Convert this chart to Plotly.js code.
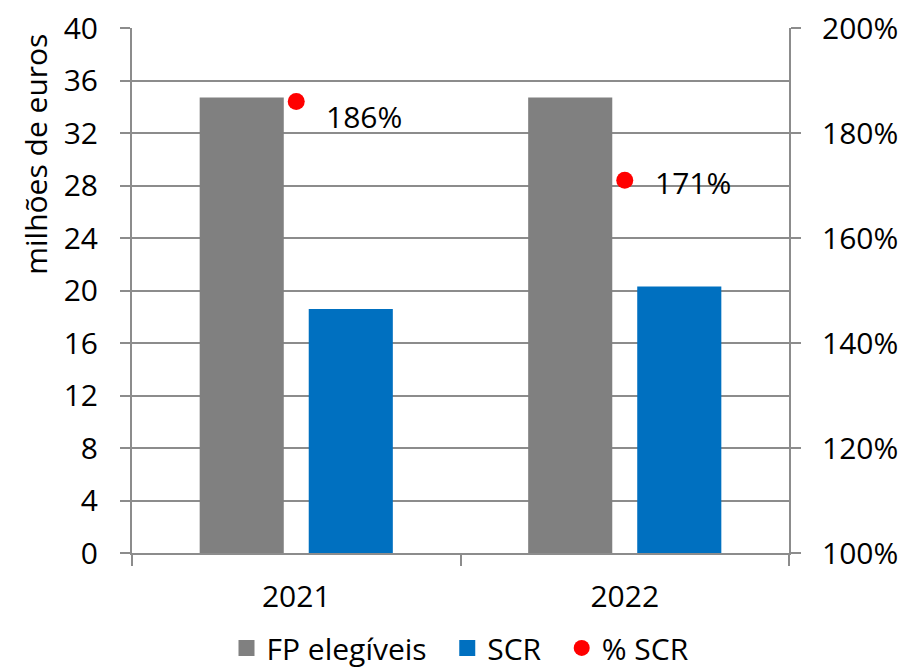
<!DOCTYPE html>
<html>
<head>
<meta charset="utf-8">
<script src="https://cdn.plot.ly/plotly-3.0.1.min.js"></script>
<style>html,body{margin:0;padding:0;background:#fff}#chart{width:906px;height:668px}</style>
</head>
<body>
<div id="chart"></div>
<script>
var categories = ['2021', '2022'];
var fpElegiveis = [34.7, 34.7];
var scr = [18.6, 20.3];
var pctScr = [1.86, 1.71];
var pctLabels = ['186%', '171%'];
var leftTicks = [0, 4, 8, 12, 16, 20, 24, 28, 32, 36, 40];
var rightTicks = [1.0, 1.2, 1.4, 1.6, 1.8, 2.0];

var GRAY = '#808080', BLUE = '#0070C0', RED = '#FF0000', GRID = '#8c8c8c';
function F() { return {family: 'Open Sans, Noto Sans, sans-serif', size: 30, color: '#000'}; }
var NB = '\u00a0';

var traces = [
  {type: 'bar', x: categories, y: fpElegiveis, name: 'FP elegíveis', marker: {color: GRAY},
   width: 0.256, offset: -0.294, showlegend: false, hoverinfo: 'none'},
  {type: 'bar', x: categories, y: scr, name: 'SCR', marker: {color: BLUE},
   width: 0.256, offset: 0.038, showlegend: false, hoverinfo: 'none'},
  {type: 'scatter', mode: 'markers', x: categories, y: pctScr, yaxis: 'y2', name: '% SCR',
   marker: {color: RED, size: 17}, showlegend: false, hoverinfo: 'none'},
  {type: 'scatter', mode: 'markers', x: [null], y: [null], name: 'FP elegíveis' + NB + NB,
   marker: {color: GRAY, symbol: 'square', size: 19}},
  {type: 'scatter', mode: 'markers', x: [null], y: [null], name: 'SCR' + NB + NB,
   marker: {color: BLUE, symbol: 'square', size: 19}},
  {type: 'scatter', mode: 'markers', x: [null], y: [null], name: '% SCR', yaxis: 'y2',
   marker: {color: RED, size: 17}}
];

var labelShiftY = [-15, -2];
var annotations = [];
for (var i = 0; i < categories.length; i++) {
  annotations.push({x: i, y: pctScr[i], xref: 'x', yref: 'y2', text: pctLabels[i], showarrow: false,
    xanchor: 'left', yanchor: 'middle', xshift: 28, yshift: labelShiftY[i], font: F()});
}
annotations.push({x: -0.148, y: 0.76, xref: 'paper', yref: 'paper', yanchor: 'middle', xanchor: 'center',
  text: 'milhões de euros', textangle: -90, showarrow: false, font: F()});

var layout = {
  width: 906, height: 668,
  margin: {l: 132, r: 117, t: 28, b: 115, pad: 0, autoexpand: false},
  paper_bgcolor: '#fff', plot_bgcolor: '#fff',
  font: F(),
  barmode: 'overlay',
  xaxis: {type: 'category', range: [-0.5, 1.5], tickson: 'boundaries', ticks: 'outside',
          ticklen: 11, tickwidth: 2, tickcolor: GRID, showgrid: false, showline: true,
          linecolor: GRID, linewidth: 2, ticklabelstandoff: 16, tickfont: F(), fixedrange: true},
  yaxis: {range: [0, 40], tickvals: leftTicks, ticks: 'outside', ticklen: 10, tickwidth: 2,
          tickcolor: GRID, showgrid: true, gridcolor: GRID, gridwidth: 2, showline: true,
          linecolor: GRID, linewidth: 2, zeroline: false, ticklabelstandoff: 16, tickfont: F()},
  yaxis2: {range: [1, 2], tickvals: rightTicks, tickformat: '.0%', overlaying: 'y', side: 'right',
           ticks: 'outside', ticklen: 10, tickwidth: 2, tickcolor: GRID, showgrid: false,
           showline: true, linecolor: GRID, linewidth: 2, zeroline: false,
           ticklabelstandoff: 15, tickfont: F()},
  legend: {orientation: 'h', x: 0.5, xanchor: 'center', yref: 'container', y: 0.03, yanchor: 'middle',
           font: F(), itemwidth: 30, bgcolor: 'rgba(0,0,0,0)'},
  annotations: annotations,
  showlegend: true
};

Plotly.newPlot('chart', traces, layout, {displayModeBar: false, staticPlot: true});
</script>
</body>
</html>
